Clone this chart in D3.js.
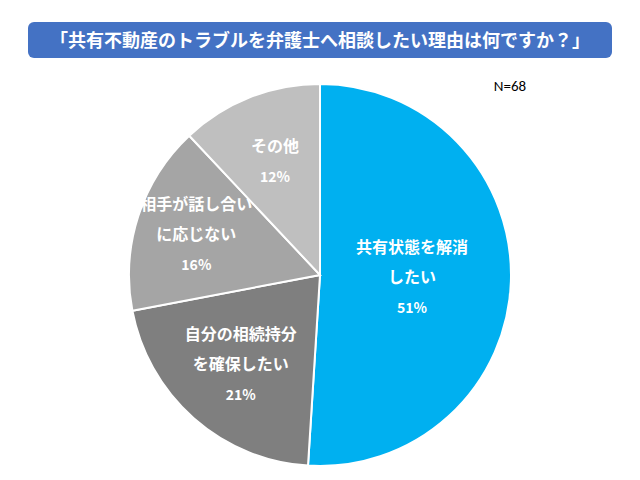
<!DOCTYPE html>
<html><head><meta charset="utf-8">
<script src="https://cdn.jsdelivr.net/npm/d3@7"></script>
<style>body{margin:0;background:#fff}</style></head>
<body><svg id="c" width="640" height="480"></svg>
<script>
const categories = [["共有状態を解消","したい"],["自分の相続持分","を確保したい"],["相手が話し合い","に応じない"],["その他"]];
const values = [51,21,16,12];
const colors = ["#00B0F0","#7F7F7F","#A5A5A5","#BFBFBF"];
const labelRadius = [92,120,130,122];
const title = "「共有不動産のトラブルを弁護士へ相談したい理由は何ですか？」";
const note = "N=68";

const svg = d3.select("#c");
const font = "'Noto Sans CJK JP', sans-serif";
svg.append("rect").attr("x",28).attr("y",22).attr("width",584).attr("height",36).attr("rx",6).attr("fill","#4472C4");
svg.append("text").attr("x",320).attr("y",47).attr("text-anchor","middle").attr("fill","#fff")
  .attr("font-family",font).attr("font-weight","bold").attr("font-size",18).text(title);
svg.append("text").attr("x",510).attr("y",91).attr("text-anchor","middle").attr("fill","#000")
  .attr("font-family","Calibri, 'Liberation Sans', sans-serif").attr("font-size",15).text(note);

const cx=320, cy=275, r=191;
const pie = d3.pie().sort(null).value(d=>d)(values);
const arc = d3.arc().innerRadius(0).outerRadius(r);
const g = svg.append("g").attr("transform",`translate(${cx},${cy})`);
g.selectAll("path").data(pie).join("path").attr("d",arc)
  .attr("fill",(d,i)=>colors[i]).attr("stroke","#fff").attr("stroke-width",2);
pie.forEach((d,i)=>{
  const [x,y] = d3.arc().innerRadius(labelRadius[i]).outerRadius(labelRadius[i]).centroid(d);
  const lines = categories[i].concat([values[i]+"%"]);
  const lh = 30, y0 = y - (lines.length-1)*lh/2;
  lines.forEach((t,j)=>{
    g.append("text").attr("x",x).attr("y",y0+j*lh+5).attr("text-anchor","middle")
      .attr("fill","#fff").attr("font-family",font).attr("font-weight","bold")
      .attr("font-size", j===lines.length-1?14:16).text(t);
  });
});
</script></body></html>
